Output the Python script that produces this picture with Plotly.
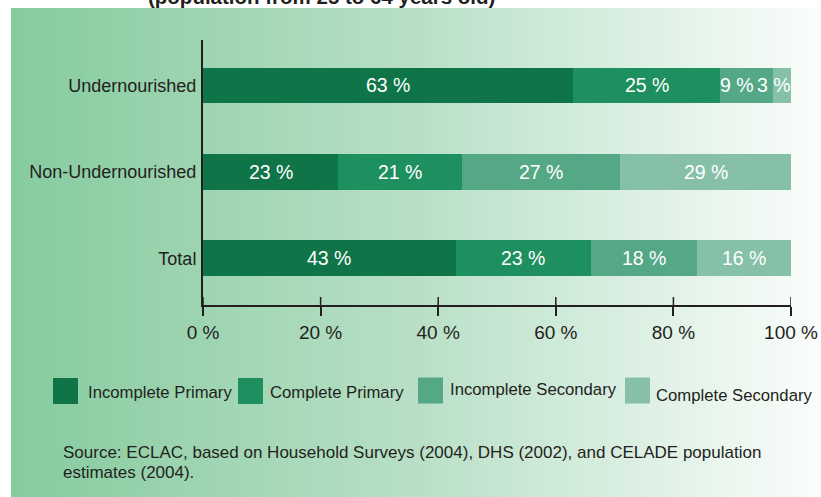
import plotly.graph_objects as go

# Educational attainment by nutritional status (population 25 to 64 years old)
groups = ["Total", "Non-Undernourished", "Undernourished"]
series_names = ["Incomplete Primary", "Complete Primary",
                "Incomplete Secondary", "Complete Secondary"]
incomplete_primary = [43, 23, 63]
complete_primary = [23, 21, 25]
incomplete_secondary = [18, 27, 9]
complete_secondary = [16, 29, 3]
tick_values = [0, 20, 40, 60, 80, 100]
tick_labels = ["0 %", "20 %", "40 %", "60 %", "80 %", "100 %"]

series_values = [incomplete_primary, complete_primary,
                 incomplete_secondary, complete_secondary]
colors = ["#0f7548", "#1e8f5f", "#55a886", "#86c0a9"]
INK = "#231f20"
FONT = "Liberation Sans, Arial, sans-serif"

W, H = 821, 497
L, R, T, B = 203, 30, 40, 192
PW, PH = W - L - R, H - T - B


def px(x):
    return (x - L) / PW


def py(y):
    return (H - B - y) / PH


fig = go.Figure()
for name, vals, col in zip(series_names, series_values, colors):
    fig.add_trace(go.Bar(
        y=groups, x=vals, orientation="h", name=name,
        marker=dict(color=col, line=dict(width=0)),
        hoverinfo="skip", showlegend=False,
    ))

annotations = []

# value labels, centred in each segment; a too-narrow closing segment
# gets its label pinned to the bar end and its neighbour's to the left
NARROW = 6
for gi, g in enumerate(groups):
    row = [s[gi] for s in series_values]
    last = len(row) - 1
    cum = 0
    for j, v in enumerate(row):
        x, anchor, shift = cum + v / 2, "center", 0
        if j == last and v < NARROW:
            x, anchor, shift = cum + v, "right", 2
        elif j == last - 1 and row[last] < NARROW:
            x, anchor, shift = cum, "left", -2
        annotations.append(dict(
            xref="x", yref="y", x=x, y=g, xanchor=anchor, xshift=shift,
            yanchor="middle", showarrow=False, text=f"{v} %",
            font=dict(family=FONT, size=19.5, color="white"),
        ))
        cum += v

shapes = []

# horizontal green-to-white gradient panel
x_left, x_right, y_top, y_bot = 11, 821, 8, 497
stops = [(11, (134, 203, 158)), (410, (183, 223, 197)), (821, (250, 253, 251))]


def grad(xv):
    for (xa, ca), (xb, cb) in zip(stops[:-1], stops[1:]):
        if xa <= xv <= xb:
            t = (xv - xa) / (xb - xa)
            return tuple(round(a + (b - a) * t) for a, b in zip(ca, cb))
    return stops[-1][1]


step = 6
for x0 in range(x_left, x_right, step):
    x1 = min(x0 + step + 1, x_right)
    c = grad(x0 + step / 2)
    shapes.append(dict(
        type="rect", xref="paper", yref="paper", layer="below",
        x0=px(x0), x1=px(x1), y0=py(y_bot), y1=py(y_top),
        fillcolor=f"rgb{c}", line=dict(width=0),
    ))

# upper half of the crossing tick marks
for tv in tick_values:
    shapes.append(dict(
        type="line", xref="x", yref="paper",
        x0=tv, x1=tv, y0=0, y1=8 / PH,
        line=dict(color=INK, width=1.5),
    ))

# legend swatches and labels
legend_items = [
    (53, 391, 86, 392),
    (238, 391, 268, 392),
    (418, 390.5, 448, 389),
    (625, 390.5, 654, 395),
]
for (sx, sy, tx, ty), name, col in zip(legend_items, series_names, colors):
    shapes.append(dict(
        type="rect", xref="paper", yref="paper",
        x0=px(sx), x1=px(sx + 25), y0=py(sy + 13), y1=py(sy - 13),
        fillcolor=col, line=dict(width=0),
    ))
    annotations.append(dict(
        xref="paper", yref="paper", x=px(tx), y=py(ty),
        xanchor="left", yanchor="middle", showarrow=False,
        text=name, font=dict(family=FONT, size=16.7, color=INK),
    ))

# source note
annotations.append(dict(
    xref="paper", yref="paper", x=px(61), y=py(452),
    xanchor="left", yanchor="middle", showarrow=False,
    text="Source: ECLAC, based on Household Surveys (2004), DHS (2002), and CELADE population",
    font=dict(family=FONT, size=17, color=INK),
))
annotations.append(dict(
    xref="paper", yref="paper", x=px(61), y=py(472),
    xanchor="left", yanchor="middle", showarrow=False,
    text="estimates (2004).",
    font=dict(family=FONT, size=17, color=INK),
))

# subtitle running off the top edge
annotations.append(dict(
    xref="paper", yref="paper", x=px(321), y=py(-4),
    xanchor="center", yanchor="middle", showarrow=False,
    text="<b>(population from 25 to 64 years old)</b>",
    font=dict(family=FONT, size=20.5, color=INK),
))

fig.update_layout(
    width=W, height=H,
    margin=dict(l=L, r=R, t=T, b=B, pad=0, autoexpand=False),
    paper_bgcolor="white", plot_bgcolor="rgba(0,0,0,0)",
    barmode="stack", bargap=0.584,
    shapes=shapes, annotations=annotations,
    xaxis=dict(
        range=[0, 100], tickvals=tick_values, ticktext=tick_labels,
        ticks="outside", ticklen=9, tickwidth=1.5, tickcolor=INK,
        showline=True, linewidth=2, linecolor=INK,
        showgrid=False, zeroline=False, fixedrange=True, automargin=False,
        tickfont=dict(family=FONT, size=19, color=INK),
    ),
    yaxis=dict(
        categoryorder="array", categoryarray=groups,
        range=[-0.538, 2.526],
        ticks="", showline=True, linewidth=2, linecolor=INK,
        showgrid=False, zeroline=False, fixedrange=True, automargin=False,
        ticklabelstandoff=1,
        tickfont=dict(family=FONT, size=18, color=INK),
    ),
    font=dict(family=FONT, color=INK),
)

fig.write_html("out.html")
